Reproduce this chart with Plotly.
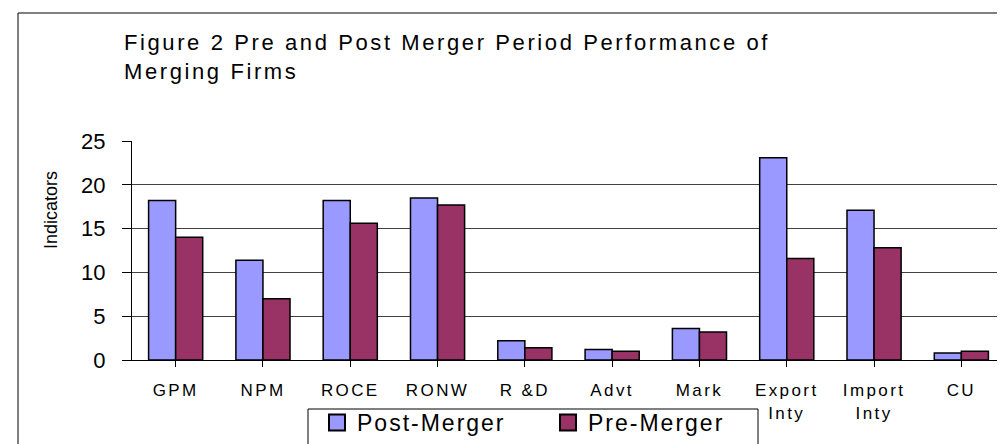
import plotly.graph_objects as go

categories = ["GPM", "NPM", "ROCE", "RONW", "R &D", "Advt", "Mark", "Export<br>Inty", "Import<br>Inty", "CU"]
post_merger = [18.2, 11.4, 18.2, 18.5, 2.2, 1.2, 3.6, 23.1, 17.1, 0.8]
pre_merger = [14.0, 7.0, 15.6, 17.7, 1.4, 1.0, 3.2, 11.6, 12.8, 1.0]
series_names = ["Post-Merger", "Pre-Merger"]
series_colors = ["#9999FF", "#993366"]
y_ticks = [0, 5, 10, 15, 20, 25]

FONT = "Liberation Sans, Arial, sans-serif"

def spaced(t, px):
    return f'<span style="letter-spacing:{px}px">{t}</span>'

W, H = 1005, 444
L, R, T, B = 124, 8, 133, 92
PW, PH = W - L - R, H - T - B

def px_x(p):
    return (p - L) / PW

def px_y(p):
    return (H - B - p) / PH

fig = go.Figure()
for vals, name, color in zip([post_merger, pre_merger], series_names, series_colors):
    fig.add_bar(x=list(range(len(categories))), y=vals, name=name, showlegend=False,
                legendgroup=name,
                marker=dict(color=color, line=dict(color="black", width=1.5)))
# legend entries (larger square swatches like the original)
for name, color in zip(series_names, series_colors):
    fig.add_scatter(x=[None], y=[None], mode="markers", name=spaced(name, 2), legendgroup=name,
                    marker=dict(symbol="square", size=16, color=color,
                                line=dict(color="black", width=2)))

fig.update_layout(
    width=W, height=H,
    margin=dict(l=L, r=R, t=T, b=B, autoexpand=False),
    paper_bgcolor="white", plot_bgcolor="white",
    barmode="group", bargap=0.38, bargroupgap=0,
    font=dict(family=FONT, color="black"),
    showlegend=True,
    legend=dict(orientation="h", x=px_x(309), y=px_y(393), xanchor="left", yanchor="top",
                font=dict(size=23, family=FONT), bgcolor="rgba(0,0,0,0)",
                entrywidth=186, entrywidthmode="pixels"),
    xaxis=dict(tickmode="array", tickvals=list(range(len(categories))),
               ticktext=[spaced(c, 2.4) for c in categories],
               range=[-0.5, len(categories) - 0.5],
               showline=True, linecolor="black", linewidth=1,
               ticks="outside", ticklen=6, tickcolor="black", tickson="boundaries",
               tickfont=dict(size=17, family=FONT), ticklabelstandoff=9,
               showgrid=False, zeroline=False),
    yaxis=dict(range=[0, 25], tickmode="array", tickvals=y_ticks,
               showline=True, linecolor="black", linewidth=1,
               ticks="outside", ticklen=9, tickcolor="black",
               tickfont=dict(size=22, family=FONT), ticklabelstandoff=12,
               showgrid=True, gridcolor="#404040", gridwidth=1, zeroline=False),
    shapes=[
        dict(type="rect", xref="paper", yref="paper", x0=px_x(10), x1=px_x(1003),
             y0=px_y(470), y1=px_y(5), line=dict(color="black", width=1), layer="below"),
        dict(type="rect", xref="paper", yref="paper", x0=px_x(300), x1=px_x(750),
             y0=px_y(470), y1=px_y(401), line=dict(color="black", width=1),
             fillcolor="white", layer="below"),
    ],
    annotations=[
        dict(text=spaced("Figure 2 Pre and Post Merger Period Performance of<br>Merging Firms", 2.6),
             xref="paper", yref="paper", x=px_x(114), y=px_y(20), xanchor="left", yanchor="top",
             align="left", showarrow=False, font=dict(size=22, family=FONT)),
        dict(text="Indicators", textangle=-90, xref="paper", yref="paper",
             x=px_x(43), y=px_y(202), xanchor="center", yanchor="middle",
             showarrow=False, font=dict(size=18, family=FONT)),
    ],
)

fig.write_html("out.html")
